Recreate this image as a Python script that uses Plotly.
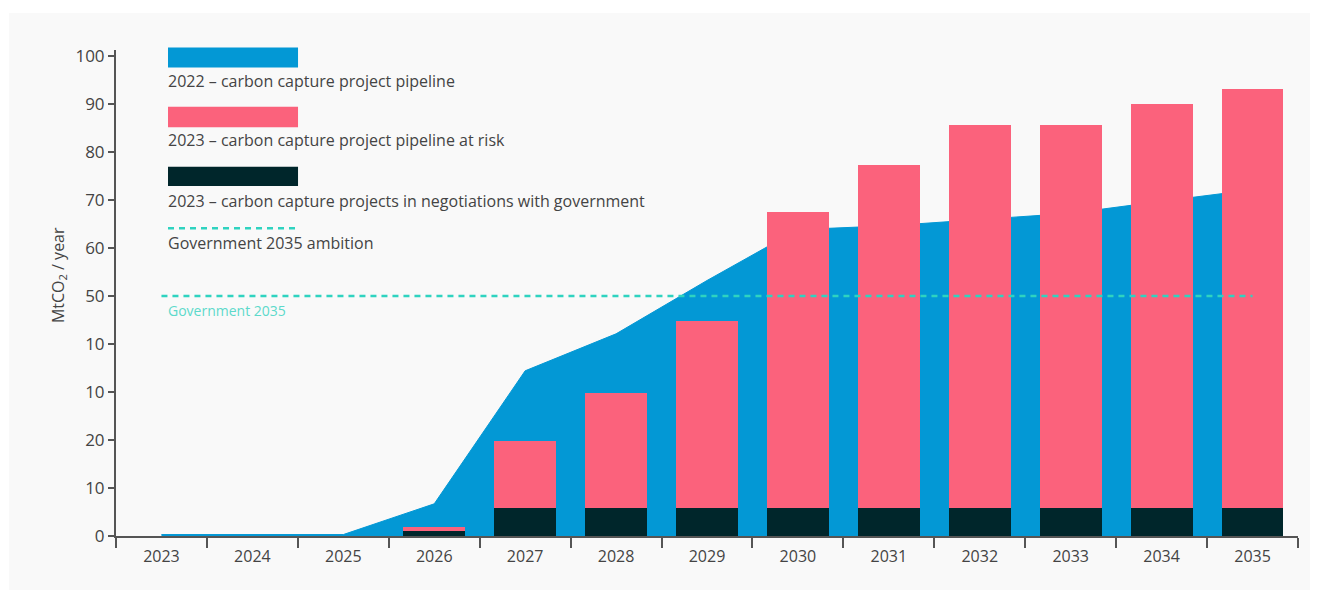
import plotly.graph_objects as go

years = ["2023", "2024", "2025", "2026", "2027", "2028", "2029", "2030", "2031", "2032", "2033", "2034", "2035"]
pipeline_2022 = [0.3, 0.3, 0.3, 6.7, 34.4, 42.1, 53.2, 63.8, 64.6, 65.9, 67.2, 69.7, 72.1]
negotiations_2023 = [0, 0, 0, 1.0, 5.9, 5.9, 5.9, 5.9, 5.9, 5.9, 5.9, 5.9, 5.9]
at_risk_2023 = [0, 0, 0, 0.9, 13.9, 23.8, 38.9, 61.5, 71.4, 79.6, 79.6, 84.1, 87.1]
gov_ambition = [50] * 13
ytick_vals = [0, 10, 20, 30, 40, 50, 60, 70, 80, 90, 100]
ytick_text = ["0", "10", "20", "10", "10", "50", "60", "70", "80", "90", "100"]

legend_labels = [
    "2022 – carbon capture project pipeline",
    "2023 – carbon capture project pipeline at risk",
    "2023 – carbon capture projects in negotiations with government",
    "Government 2035 ambition",
]

BLUE = "#0398d5"
PINK = "#fb627c"
DARK = "#00262b"
TEAL = "#2fd3c0"
TXT = "#444444"
FONT = "Open Sans"
YR = [0, 101.2]
XR = [-0.5, 12.5]

fig = go.Figure()
# area on the base axes (drawn underneath)
fig.add_trace(go.Scatter(x=years, y=pipeline_2022, mode="lines", fill="tozeroy",
                         fillcolor=BLUE, line=dict(color=BLUE, width=1), showlegend=False,
                         xaxis="x", yaxis="y"))
# bars + ambition line on overlaying axes (drawn on top)
fig.add_trace(go.Bar(x=years, y=negotiations_2023, marker=dict(color=DARK, line=dict(width=0)),
                     width=0.68, showlegend=False, xaxis="x2", yaxis="y2"))
fig.add_trace(go.Bar(x=years, y=at_risk_2023, marker=dict(color=PINK, line=dict(width=0)),
                     width=0.68, showlegend=False, xaxis="x2", yaxis="y2"))
fig.add_trace(go.Scatter(x=years, y=gov_ambition, mode="lines",
                         line=dict(color=TEAL, width=2.5, dash="6px,5px"), showlegend=False,
                         xaxis="x2", yaxis="y2"))

# background panel
fig.add_shape(type="rect", xref="paper", yref="paper", x0=-0.0905, x1=1.0102, y0=-0.111, y1=1.076,
              fillcolor="#f9f9f9", line=dict(width=0), layer="below")

# custom legend
sw_x0, sw_x1 = 0.044, 0.154
swatches = [(0.964, 1.005, BLUE), (0.841, 0.883, PINK), (0.720, 0.760, DARK)]
for y0, y1, c in swatches:
    fig.add_shape(type="rect", xref="paper", yref="paper", x0=sw_x0, x1=sw_x1, y0=y0, y1=y1,
                  fillcolor=c, line=dict(width=0))
fig.add_shape(type="line", xref="paper", yref="paper", x0=sw_x0, x1=sw_x1, y0=0.633, y1=0.633,
              line=dict(color=TEAL, width=2.5, dash="6px,5px"))
for lbl, yy in zip(legend_labels, [0.936, 0.815, 0.690, 0.603]):
    fig.add_annotation(text=lbl, xref="paper", yref="paper", x=sw_x0 - 0.002, y=yy,
                       xanchor="left", yanchor="middle", showarrow=False,
                       font=dict(family=FONT, size=16, color=TXT))

fig.add_annotation(text="Government 2035", xref="paper", yref="y", x=sw_x0 - 0.002, y=46.9,
                   xanchor="left", yanchor="middle", showarrow=False,
                   font=dict(family=FONT, size=14, color="#5dd9cb"))

fig.add_annotation(text="MtCO<sub>2</sub> / year", xref="paper", yref="paper", x=-0.049, y=0.537,
                   textangle=-90, xanchor="center", yanchor="middle", showarrow=False,
                   font=dict(family=FONT, size=16, color=TXT))

fig.update_layout(
    width=1322, height=603,
    margin=dict(l=116, r=24, t=50, b=67),
    paper_bgcolor="white", plot_bgcolor="rgba(0,0,0,0)",
    barmode="stack",
    font=dict(family=FONT, size=16, color=TXT),
    xaxis=dict(type="category", range=XR, showgrid=False, zeroline=False,
               showline=True, linecolor="#555555", linewidth=2,
               ticks="outside", tickson="boundaries", ticklen=10, tickwidth=2, tickcolor="#555555",
               ticklabelstandoff=5,
               tickfont=dict(family=FONT, size=16, color=TXT)),
    yaxis=dict(range=YR, showgrid=False, zeroline=False,
               showline=True, linecolor="#555555", linewidth=2,
               ticks="outside", ticklen=6, tickwidth=2, tickcolor="#555555",
               tickvals=ytick_vals, ticktext=ytick_text,
               tickfont=dict(family=FONT, size=17, color=TXT)),
    xaxis2=dict(type="category", range=XR, overlaying="x", visible=False,
                categoryorder="array", categoryarray=years),
    yaxis2=dict(range=YR, overlaying="y", visible=False),
)

fig.write_html("out.html")
